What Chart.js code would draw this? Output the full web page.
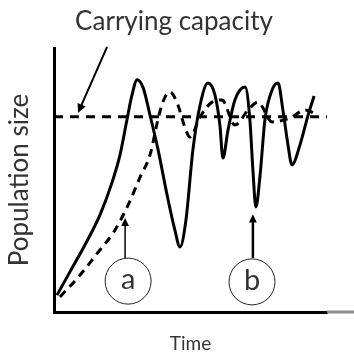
<!DOCTYPE html>
<html>
<head>
<meta charset="utf-8">
<title>Population growth</title>
<script src="https://cdn.jsdelivr.net/npm/chart.js@4.4.1/dist/chart.umd.min.js"></script>
<style>
  html, body { margin: 0; padding: 0; background: #fff; }
</style>
</head>
<body>
<canvas id="popChart" width="354" height="359"></canvas>
<script>
// carrying capacity K
const capacity = 74;
const capTime = [0, 91];

// curve (b): overshoots K and keeps oscillating
const solidTime = [1, 5.3, 10.3, 15.3, 19.3, 22, 24.3, 26, 27.7, 29.7, 32, 34.7, 37.7, 40.3, 42,
  44, 46.3, 48.7, 51.3, 53.7, 55.3, 56.3, 58, 60.3, 63.7, 65.3, 66.3, 67.3, 68.7, 70.3, 72.7,
  74.7, 76.3, 78, 79.3, 82, 84.7, 86.7];
const solidPop = [6.4, 15.2, 25.4, 36.7, 48.9, 59.5, 72.7, 82.2, 88, 85, 74.6, 61.4, 44.3, 31, 24.6,
  35, 61.4, 78.4, 86.7, 82, 70.8, 58.3, 68.9, 80.3, 85.2, 72.7, 53.8, 39.8, 51.9, 72.7, 84.1,
  86.7, 76.5, 63.3, 55.7, 63.3, 74.6, 81.8];

// curve (a): damped oscillation settling on K
const dampedTime = [2, 8.7, 15.3, 19.7, 24.7, 28.7, 32, 35, 37, 38.7, 41.3, 43.7, 45.3, 48.7, 52.7,
  56, 60.3, 64.7, 68, 72.7, 78.7, 83.7, 88];
const dampedPop = [5.7, 14, 23.5, 29.9, 40.5, 51.1, 59.5, 74.6, 81.4, 83.3, 78.4, 69.7, 66.3, 73.9, 79.5,
  80.3, 70.8, 76.5, 79.5, 72, 73.5, 76.5, 74.6];

const toPoints = (xs, ys) => xs.map((v, i) => ({x: v, y: ys[i]}));

// hand-drawn notes, placed in data units
const capLabel = {text: 'Carrying capacity', t: 40, p: 110, from: [17.7, 100.4], to: [8, 75.4]};
const circled = [
  {text: 'a', t: 24.7, p: 11.7, arrowFrom: 20.5, arrowTo: 35.6, arrowT: 23.7, lw: 1.5},
  {text: 'b', t: 66, p: 11.4, arrowFrom: 20.5, arrowTo: 37, arrowT: 66.3, lw: 2.5}
];

const FONT = 'Lato, "Open Sans", sans-serif';
const INK = '#333';

function arrow(ctx, x1, y1, x2, y2, lw, head) {
  const a = Math.atan2(y2 - y1, x2 - x1);
  ctx.lineWidth = lw;
  ctx.beginPath();
  ctx.moveTo(x1, y1);
  ctx.lineTo(x2 - Math.cos(a) * head * 0.6, y2 - Math.sin(a) * head * 0.6);
  ctx.stroke();
  ctx.beginPath();
  ctx.moveTo(x2, y2);
  ctx.lineTo(x2 - head * Math.cos(a - 0.45), y2 - head * Math.sin(a - 0.45));
  ctx.lineTo(x2 - head * Math.cos(a + 0.45), y2 - head * Math.sin(a + 0.45));
  ctx.closePath();
  ctx.fill();
}

const sketchNotes = {
  id: 'sketchNotes',
  afterDatasetsDraw(chart) {
    const {ctx, chartArea} = chart;
    const x = chart.scales.x, y = chart.scales.y;
    ctx.save();

    // faded tail of the time axis
    ctx.strokeStyle = '#8a8a8a';
    ctx.lineWidth = 3;
    ctx.beginPath();
    ctx.moveTo(chartArea.right, chartArea.bottom);
    ctx.lineTo(chart.width, chartArea.bottom);
    ctx.stroke();

    ctx.strokeStyle = '#000';
    ctx.fillStyle = '#000';
    arrow(ctx, x.getPixelForValue(capLabel.from[0]), y.getPixelForValue(capLabel.from[1]),
      x.getPixelForValue(capLabel.to[0]), y.getPixelForValue(capLabel.to[1]), 2, 10);

    ctx.fillStyle = INK;
    ctx.font = '26px ' + FONT;
    ctx.textAlign = 'center';
    ctx.textBaseline = 'middle';
    ctx.fillText(capLabel.text, x.getPixelForValue(capLabel.t), y.getPixelForValue(capLabel.p));

    circled.forEach(c => {
      const ax = x.getPixelForValue(c.arrowT);
      ctx.fillStyle = '#000';
      ctx.strokeStyle = '#000';
      arrow(ctx, ax, y.getPixelForValue(c.arrowFrom), ax, y.getPixelForValue(c.arrowTo), c.lw, 9);

      const cx = x.getPixelForValue(c.t), cy = y.getPixelForValue(c.p);
      ctx.lineWidth = 1;
      ctx.strokeStyle = '#222';
      ctx.beginPath();
      ctx.arc(cx, cy, 23, 0, Math.PI * 2);
      ctx.stroke();
      ctx.fillStyle = INK;
      ctx.font = '29px ' + FONT;
      ctx.fillText(c.text, cx, cy - 1);
    });
    ctx.restore();
  }
};

new Chart(document.getElementById('popChart'), {
  type: 'scatter',
  data: {
    datasets: [
      {
        label: 'Carrying capacity',
        data: toPoints(capTime, capTime.map(() => capacity)),
        showLine: true,
        borderColor: '#000',
        borderWidth: 3,
        borderDash: [9, 7],
        pointRadius: 0,
      },
      {
        label: 'a',
        data: toPoints(dampedTime, dampedPop),
        showLine: true,
        borderColor: '#000',
        borderWidth: 3,
        borderDash: [8, 6],
        cubicInterpolationMode: 'monotone',
        pointRadius: 0,
      },
      {
        label: 'b',
        data: toPoints(solidTime, solidPop),
        showLine: true,
        borderColor: '#000',
        borderWidth: 3,
        cubicInterpolationMode: 'monotone',
        pointRadius: 0,
      },
    ],
  },
  options: {
    responsive: false,
    animation: false,
    layout: { padding: { top: 48, right: 27 } },
    plugins: {
      legend: { display: false },
      tooltip: { enabled: false },
    },
    scales: {
      x: {
        type: 'linear',
        min: 0,
        max: 91,
        grid: { display: false },
        ticks: { display: false },
        border: { display: true, color: '#000', width: 3 },
        title: { display: true, text: 'Time', color: INK, font: { family: FONT, size: 19 }, padding: { bottom: 4 } },
        afterFit(scale) { scale.height = 47; },
      },
      y: {
        min: 0,
        max: 100,
        grid: { display: false },
        ticks: { display: false },
        border: { display: true, color: '#000', width: 3 },
        title: { display: true, text: 'Population size', color: INK, font: { family: FONT, size: 26 }, padding: { top: 4 } },
        afterFit(scale) { scale.width = 54; },
      },
    },
  },
  plugins: [sketchNotes],
});
</script>
</body>
</html>
